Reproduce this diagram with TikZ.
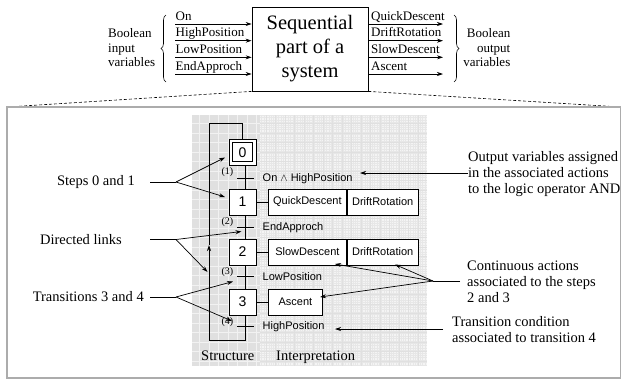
\documentclass[tikz,border=0pt]{standalone}
\usepackage{fontspec}
\setmainfont{Liberation Serif}
\newfontfamily\arialf{Liberation Sans}
\usetikzlibrary{arrows.meta,decorations.pathreplacing,backgrounds}
\newcommand\topfont{\fontsize{13}{14.5}\selectfont}
\newcommand\seqfont{\fontsize{20.5}{24}\selectfont}
\newcommand\annfont{\fontsize{14.5}{16}\selectfont}
\newcommand\stepfont{\arialf\fontsize{14}{16}\selectfont}
\newcommand\actfont{\arialf\fontsize{11}{13}\selectfont}
\newcommand\numfont{\fontsize{10}{12}\selectfont}
\tikzset{
  arr/.style={-{Stealth[length=6pt,width=4pt]}, line width=0.7pt},
  link/.style={line width=0.8pt},
  toplab/.style={font=\topfont, inner sep=0pt},
  ann/.style={font=\annfont, align=left, inner sep=0pt},
  stepbox/.style={draw, line width=0.8pt, fill=white, minimum width=27pt, minimum height=26pt, inner sep=0pt, font=\stepfont},
  innerbox/.style={draw, line width=0.8pt, fill=white, minimum width=20pt, minimum height=19pt, inner sep=0pt, font=\stepfont},
  actbox/.style={draw, line width=0.8pt, fill=white, minimum height=26pt, inner sep=0pt, font=\actfont},
  trlab/.style={font=\actfont, inner sep=0pt, anchor=west},
  numlab/.style={font=\numfont, inner sep=0pt, anchor=east},
  bar/.style={line width=0.8pt},
}
\begin{document}
\begin{tikzpicture}[x=1pt,y=-1pt]
\useasboundingbox (0,0) rectangle (623,381);

% ---------- top part ----------
\node[draw, line width=0.8pt, minimum width=116pt, minimum height=84pt, inner sep=0pt,
      align=center, font=\seqfont] (seq) at (310,49) {Sequential\\part of a\\system};

\foreach \y/\t [count=\i] in {24/On, 40.7/HighPosition, 57.3/LowPosition, 74/EndApproch} {
  \coordinate (in\i) at (175,\y);
  \draw[arr] (in\i) -- (in\i -| seq.west);
  \node[toplab, anchor=base west] (inl\i) at (175.5,\y-4) {\t};
}
\foreach \y/\t [count=\i] in {24/QuickDescent, 40.7/DriftRotation, 57.3/SlowDescent, 74/Ascent} {
  \coordinate (out\i) at (443,\y);
  \draw[arr] (out\i -| seq.east) -- (out\i);
  \node[toplab, anchor=base west] (outl\i) at (371,\y-4) {\t};
}
\draw[decorate, decoration={brace, amplitude=5pt}, line width=0.6pt] (166,82) -- (166,15);
\draw[decorate, decoration={brace, amplitude=5pt}, line width=0.6pt] (454,15) -- (454,82);
\node[toplab, align=left, anchor=west] (bin) at (108,48) {Boolean\\input\\variables};
\node[toplab, align=right, anchor=east] (bout) at (510.5,48) {Boolean\\output\\variables};

% ---------- frame ----------
\coordinate (ftl) at (7,107);
\coordinate (fbr) at (620.5,378);
\draw[dash pattern=on 3pt off 2pt, line width=0.6pt] (seq.south west) -- (ftl);
\draw[dash pattern=on 3pt off 2pt, line width=0.6pt] (seq.south east) -- (ftl -| fbr);
\draw[gray!65, line width=1.6pt] (ftl) rectangle (fbr);

% ---------- grid areas ----------
\begin{scope}[on background layer]
  \fill[gray!24] (192,115) rectangle (260,366);
  \draw[gray!10, line width=0.5pt, step=9.5pt] (192,115) grid (260,366);
  \fill[gray!9] (260,115) rectangle (427,366);
  \draw[gray!19, line width=0.25pt, step=2.4pt] (260,115) grid (427,366);
  \draw[gray!24, line width=0.4pt, step=9.5pt] (260,115) grid (427,366);
\end{scope}

\node[ann, anchor=base west] (lstruct) at (201,360) {Structure};
\node[ann, anchor=base west] (linterp) at (276,360) {Interpretation};

% ---------- steps ----------
\node[stepbox] (s0) at (242.5,152.3) {};
\node[innerbox] (s0i) at (s0) {0};
\node[stepbox] (s1) at (242.5,202) {1};
\node[stepbox] (s2) at (242.5,252) {2};
\node[stepbox] (s3) at (242.5,302) {3};

\node[actbox, minimum width=78pt, anchor=west] (a1a) at (268,202) {QuickDescent};
\node[actbox, minimum width=71pt, anchor=west] (a1b) at (a1a.east) {DriftRotation};
\node[actbox, minimum width=78pt, anchor=west] (a2a) at (268,252) {SlowDescent};
\node[actbox, minimum width=71pt, anchor=west] (a2b) at (a2a.east) {DriftRotation};
\node[actbox, minimum width=54pt, anchor=west] (a3) at (268,302) {Ascent};

\coordinate (L) at (245.5,0);
\coordinate (lbot) at (209,340);
\coordinate (ltop) at (209,123.3);
\coordinate (lmid) at (209,245);

\begin{scope}[on background layer]
  \draw[link] (s0.south -| L) -- (s1.north -| L);
  \draw[link] (s1.south -| L) -- (s2.north -| L);
  \draw[link] (s2.south -| L) -- (s3.north -| L);
  \draw[link] (s3.south -| L) -- (L |- lbot) -- (lbot);
  \draw[link] (ltop) -- (ltop -| s0.north) -- (s0.north);
  \draw[link] (s1.east) -- (a1a.west);
  \draw[link] (s2.east) -- (a2a.west);
  \draw[link] (s3.east) -- (a3.west);
\end{scope}
\draw[arr, line width=0.8pt] (lbot) -- (lmid);
\draw[link] (lmid) -- (ltop);

% transitions
\foreach \y [count=\i] in {178,227.3,276.7,326.7} {
  \coordinate (t\i) at (245.5,\y);
  \draw[bar] ([xshift=-8.5pt]t\i) -- ([xshift=8.5pt]t\i);
}
\node[numlab] (n1) at (233.5,171.7) {(1)};
\node[numlab] (n2) at (233.5,221.7) {(2)};
\node[numlab] (n3) at (233.5,272.3) {(3)};
\node[numlab] (n4) at (233.5,321.7) {(4)};

\node[trlab] (c1) at (262.5,179) {On $\wedge$ HighPosition};
\node[trlab] (c2) at (262.5,227.5) {EndApproch};
\node[trlab] (c3) at (262.5,277) {LowPosition};
\node[trlab] (c4) at (262.5,327) {HighPosition};

% ---------- left annotations ----------
\node[ann, anchor=east] (ann1) at (135,182) {Steps 0 and 1};
\node[ann, anchor=east] (ann2) at (122,239.5) {Directed links};
\node[ann, anchor=east] (ann3) at (144,297) {Transitions 3 and 4};
\coordinate (l1) at (150,182);   \coordinate (f1) at (176,182);
\coordinate (l2) at (150,239.5); \coordinate (f2) at (176,239.5);
\coordinate (l3) at (150,297);   \coordinate (f3) at (176,297);
\coordinate (p0) at (225,157.5);
\coordinate (p1) at (225,197);
\coordinate (p2) at (241.5,231.5);
\coordinate (p3) at (207.5,272);
\coordinate (p4) at (233,281.5);
\coordinate (p5) at (232,321);
\draw[line width=0.7pt] (l1) -- (f1);
\draw[arr] (f1) -- (p0);
\draw[arr] (f1) -- (p1);
\draw[line width=0.7pt] (l2) -- (f2);
\draw[arr] (f2) -- (p2);
\draw[arr] (f2) -- (p3);
\draw[line width=0.7pt] (l3) -- (f3);
\draw[arr] (f3) -- (p4);
\draw[arr] (f3) -- (p5);

% ---------- right annotations ----------
\node[ann, anchor=west] (ann4) at (468,174) {Output variables assigned\\in the associated actions\\to the logic operator AND};
\node[ann, anchor=west] (ann5) at (467,282) {Continuous actions\\associated to the steps\\2 and 3};
\node[ann, anchor=west] (ann6) at (452,330) {Transition condition\\associated to transition 4};

\coordinate (r4) at (468,173);   \coordinate (q4) at (360,173);
\coordinate (r5) at (460,281);   \coordinate (f5) at (433,281);
\coordinate (q5a) at (335,264);  \coordinate (q5b) at (395,264.5);
\coordinate (q5c) at (320,297);
\coordinate (r6) at (443,329);   \coordinate (q6) at (335,329);
\draw[arr] (r4) -- (q4);
\draw[line width=0.7pt] (r5) -- (f5);
\draw[arr] (f5) -- (q5a);
\draw[arr] (f5) -- (q5b);
\draw[arr] (f5) -- (q5c);
\draw[arr] (r6) -- (q6);
\end{tikzpicture}
\end{document}
